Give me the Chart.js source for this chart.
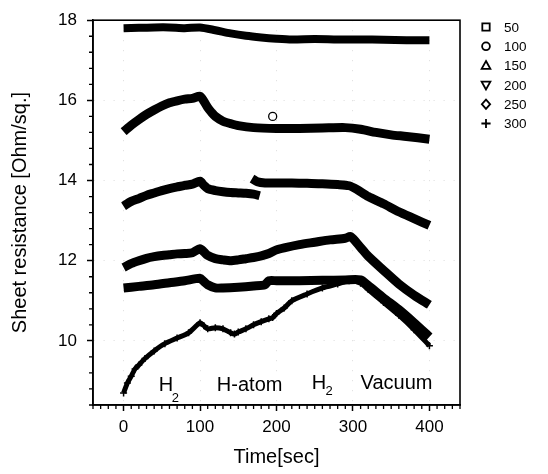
<!DOCTYPE html>
<html><head><meta charset="utf-8">
<script src="https://cdn.jsdelivr.net/npm/chart.js@4/dist/chart.umd.min.js"></script>
<style>html,body{margin:0;padding:0;background:#fff}#wrap{width:548px;height:474px;position:relative}</style>
</head><body><div id="wrap"><canvas id="c"></canvas></div>
<script>
// ---- data ----
const seriesLabels = ['50', '100', '150', '200', '250', '300'];
const xTicks = [0, 100, 200, 300, 400];
const yTicks = [10, 12, 14, 16, 18];

const t50 = [0, 20, 40, 60, 80, 100, 120, 140, 160, 180, 200, 220, 250, 280, 310, 340, 370, 400];
const r50 = [17.80, 17.81, 17.82, 17.82, 17.80, 17.82, 17.75, 17.67, 17.61, 17.57, 17.54, 17.52, 17.53, 17.52, 17.52, 17.51, 17.50, 17.50];

const t100 = [0, 10, 20, 30, 40, 50, 60, 70, 80, 90, 100, 105, 110, 115, 120, 130, 140, 150, 170, 200, 230, 260, 290, 310, 330, 350, 370, 400];
const r100 = [15.22, 15.38, 15.52, 15.65, 15.76, 15.86, 15.94, 15.99, 16.03, 16.05, 16.10, 15.98, 15.82, 15.70, 15.60, 15.48, 15.42, 15.37, 15.32, 15.30, 15.30, 15.31, 15.32, 15.28, 15.20, 15.14, 15.10, 15.03];
const t100Stray = [195];
const r100Stray = [15.60];

const t150 = [0, 10, 20, 30, 40, 50, 60, 70, 80, 90, 100, 105, 110, 120, 130, 140, 150, 160, 170, 178, 173, 168, 175, 185, 200, 220, 240, 260, 280, 295, 305, 320, 340, 360, 380, 400];
const r150 = [13.36, 13.48, 13.55, 13.63, 13.69, 13.75, 13.80, 13.84, 13.88, 13.91, 13.98, 13.88, 13.80, 13.75, 13.72, 13.70, 13.69, 13.68, 13.66, 13.62, null, 14.05, 13.97, 13.94, 13.94, 13.94, 13.93, 13.92, 13.90, 13.87, 13.78, 13.60, 13.42, 13.22, 13.05, 12.88];

const t200 = [0, 10, 20, 30, 40, 50, 60, 70, 80, 90, 100, 105, 110, 120, 130, 140, 150, 160, 170, 180, 190, 200, 210, 230, 250, 270, 290, 297, 310, 320, 340, 360, 380, 400];
const r200 = [11.83, 11.93, 12.00, 12.06, 12.10, 12.13, 12.15, 12.17, 12.18, 12.20, 12.30, 12.22, 12.13, 12.05, 12.02, 12.00, 12.02, 12.05, 12.08, 12.12, 12.18, 12.27, 12.32, 12.40, 12.46, 12.52, 12.56, 12.60, 12.33, 12.11, 11.76, 11.42, 11.14, 10.90];

const t250 = [0, 20, 40, 60, 80, 100, 105, 110, 120, 130, 150, 170, 185, 190, 200, 230, 260, 290, 310, 320, 340, 360, 380, 400];
const r250 = [11.32, 11.36, 11.40, 11.45, 11.50, 11.56, 11.48, 11.40, 11.32, 11.32, 11.34, 11.37, 11.40, 11.50, 11.50, 11.50, 11.51, 11.52, 11.52, 11.38, 11.07, 10.78, 10.45, 10.10];

const t300 = [0, 5, 10, 15, 20, 28, 40, 54, 70, 85, 100, 105, 110, 120, 130, 140, 145, 150, 160, 170, 180, 190, 195, 200, 210, 220, 240, 260, 280, 295, 310, 320, 340, 360, 380, 400];
const r300 = [8.70, 8.95, 9.12, 9.30, 9.40, 9.56, 9.75, 9.93, 10.07, 10.20, 10.45, 10.38, 10.30, 10.33, 10.30, 10.20, 10.17, 10.22, 10.30, 10.40, 10.48, 10.55, 10.58, 10.68, 10.82, 11.00, 11.17, 11.32, 11.42, 11.50, 11.44, 11.28, 10.96, 10.64, 10.28, 9.88];

// phase labels on the plot
const noteText = ['H', '2', 'H-atom', 'H', '2', 'Vacuum'];
const noteT = [46, 63, 122, 246, 264, 310];
const noteR = [8.74, 8.47, 8.74, 8.81, 8.64, 8.81];

// ---- build ----
const pts = (t, r) => t.map((x, i) => ({x: x, y: r[i]}));
const FONT = '"Liberation Sans", Arial, sans-serif';
const styleFor = ['rect', 'circle', 'triangle', 'triangle', 'rectRot', 'cross'];
const rotFor = [0, 0, 0, 180, 0, 0];
const widths = [8, 9, 9, 9, 9, 5];
const seriesT = [t50, t100, t150, t200, t250, t300];
const seriesR = [r50, r100, r150, r200, r250, r300];

const datasets = seriesLabels.map((lab, i) => ({
  label: lab,
  data: pts(seriesT[i], seriesR[i]),
  borderColor: '#000',
  backgroundColor: '#000',
  borderWidth: widths[i],
  borderJoinStyle: 'round',
  borderCapStyle: 'butt',
  pointStyle: styleFor[i],
  pointRotation: rotFor[i],
  pointRadius: i === 5 ? 3.5 : 0,
  pointBorderWidth: 1.5,
  pointBorderColor: '#000',
  spanGaps: false,
  tension: 0.25,
  legendShow: true
}));
datasets.push({
  label: '100',
  data: pts(t100Stray, r100Stray),
  showLine: false,
  pointStyle: 'circle',
  pointRadius: 4,
  pointBorderWidth: 1.3,
  pointBorderColor: '#000',
  pointBackgroundColor: '#fff',
  legendShow: false
});

function sym(ctx, style, rot, x, y, r) {
  ctx.save();
  ctx.translate(x, y);
  ctx.rotate(rot * Math.PI / 180);
  ctx.beginPath();
  if (style === 'rect') { ctx.rect(-r * 0.8, -r * 0.8, r * 1.6, r * 1.6); }
  else if (style === 'circle') { ctx.arc(0, 0, r * 0.85, 0, Math.PI * 2); }
  else if (style === 'triangle') { ctx.moveTo(0, -r); ctx.lineTo(r * 0.95, r * 0.7); ctx.lineTo(-r * 0.95, r * 0.7); ctx.closePath(); }
  else if (style === 'rectRot') { ctx.moveTo(0, -r); ctx.lineTo(r * 0.9, 0); ctx.lineTo(0, r); ctx.lineTo(-r * 0.9, 0); ctx.closePath(); }
  else if (style === 'cross') { ctx.moveTo(-r, 0); ctx.lineTo(r, 0); ctx.moveTo(0, -r); ctx.lineTo(0, r); }
  if (style !== 'cross') { ctx.fillStyle = '#fff'; ctx.fill(); }
  ctx.strokeStyle = '#000'; ctx.lineWidth = 1.8; ctx.stroke();
  ctx.restore();
}

const decor = {
  id: 'decor',
  afterDatasetsDraw(chart) {
    const {ctx, chartArea: a, scales: {x, y}} = chart;
    ctx.save();
    // frame
    ctx.strokeStyle = '#000'; ctx.lineWidth = 1.6;
    ctx.strokeRect(a.left, a.top, a.right - a.left, a.bottom - a.top);
    // minor ticks
    ctx.lineWidth = 1.3;
    ctx.beginPath();
    for (let k = -4; k <= 44; k++) {
      const v = k * 10;
      if (v % 100 === 0) continue;
      const px = x.getPixelForValue(v);
      ctx.moveTo(px, a.bottom); ctx.lineTo(px, a.bottom + 4);
    }
    for (let k = 21; k <= 45; k++) {
      const v = Math.round(k * 0.4 * 10) / 10;
      if (k % 5 === 0) continue;
      const py = y.getPixelForValue(v);
      ctx.moveTo(a.left, py); ctx.lineTo(a.left - 4, py);
    }
    ctx.stroke();
    // notes
    ctx.fillStyle = '#000';
    ctx.textBaseline = 'alphabetic';
    ctx.textAlign = 'left';
    noteText.forEach((s, i) => {
      ctx.font = (s === '2' ? '13px ' : '20px ') + FONT;
      ctx.fillText(s, x.getPixelForValue(noteT[i]), y.getPixelForValue(noteR[i]));
    });
    ctx.restore();
  },
  afterDraw(chart) {
    const ctx = chart.ctx;
    ctx.save();
    let row = 0;
    chart.data.datasets.forEach(ds => {
      if (!ds.legendShow) return;
      const yy = 27 + row * 19.3;
      sym(ctx, ds.pointStyle, ds.pointRotation || 0, 486, yy, 4.6);
      ctx.fillStyle = '#000';
      ctx.font = '13.5px ' + FONT;
      ctx.textBaseline = 'middle';
      ctx.textAlign = 'left';
      ctx.fillText(ds.label, 504, yy + 1);
      row++;
    });
    ctx.restore();
  }
};

new Chart(document.getElementById('c'), {
  type: 'line',
  data: {datasets},
  options: {
    responsive: true,
    maintainAspectRatio: false,
    animation: false,
    events: [],
    layout: {padding: {left: 0, top: 18, right: 88, bottom: 0}},
    plugins: {legend: {display: false}, tooltip: {enabled: false}},
    scales: {
      x: {
        type: 'linear', min: -40, max: 440,
        afterBuildTicks: s => { s.ticks = xTicks.map(v => ({value: v})); },
        afterFit: s => { s.height = 69; },
        ticks: {color: '#000', font: {family: FONT, size: 17}, padding: 6, maxRotation: 0, autoSkip: false},
        grid: {color: '#dcdcdc', lineWidth: 1, tickColor: '#000', tickWidth: 1.5, tickLength: 6},
        border: {display: true, color: '#000', width: 1.6, dash: [1, 9]},
        title: {display: true, text: 'Time[sec]', color: '#000', font: {family: FONT, size: 20}, padding: {top: 0, bottom: 5}}
      },
      y: {
        type: 'linear', min: 8.4, max: 18,
        afterBuildTicks: s => { s.ticks = yTicks.map(v => ({value: v})); },
        afterFit: s => { s.width = 93; },
        ticks: {color: '#000', font: {family: FONT, size: 17}, padding: 10},
        grid: {color: '#dcdcdc', lineWidth: 1, tickColor: '#000', tickWidth: 1.5, tickLength: 6},
        border: {display: true, color: '#000', width: 1.6, dash: [1, 9]},
        title: {display: true, text: 'Sheet resistance [Ohm/sq.]', color: '#000', font: {family: FONT, size: 20}, padding: {top: 8, bottom: 0}}
      }
    }
  },
  plugins: [decor]
});
</script></body></html>
